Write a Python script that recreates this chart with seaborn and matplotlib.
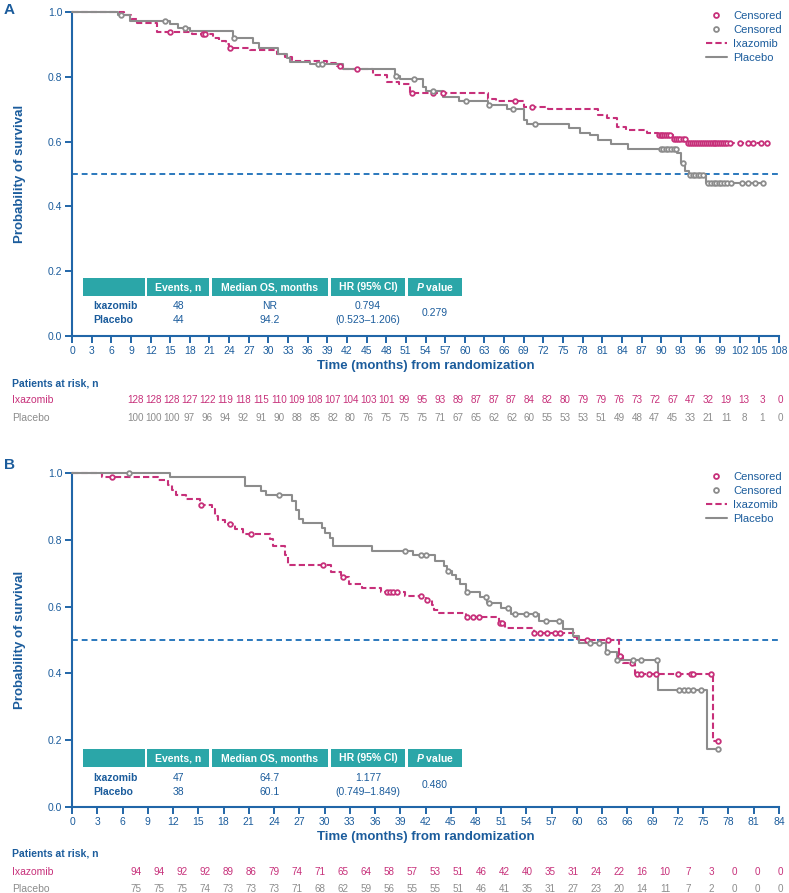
import numpy as np
import pandas as pd
import matplotlib
matplotlib.use('Agg')
import matplotlib.pyplot as plt
import seaborn as sns
from matplotlib.patches import Rectangle
from matplotlib.lines import Line2D

sns.set_theme(style='ticks')
plt.rcParams['font.family'] = ['Liberation Sans', 'DejaVu Sans']
plt.rcParams['mathtext.fontset'] = 'custom'
plt.rcParams['mathtext.it'] = 'Liberation Sans:italic:bold'
plt.rcParams['mathtext.rm'] = 'Liberation Sans:bold'

PINK = '#c7307a'
GRAY = '#8c8c8c'
BLUE = '#1b5c9c'
AXBLUE = '#2166a8'
TEAL = '#2ba6a8'

# ---- Panel A data ----
a_ixa_t = [0, 8.0, 9.0, 9.9, 13.0, 18.3, 21.5, 22.5, 23.5, 24.0, 27.2, 31.3, 32.5, 33.6, 38.9, 40.5, 41.4,
           46.0, 48.1, 50.0, 51.6, 63.5, 64.8, 69.0, 72.7, 80.3, 81.8, 83.2, 84.7, 87.8, 89.5, 91.8, 93.9]
a_ixa_s = [1.0, 0.99, 0.98, 0.967, 0.937, 0.931, 0.920, 0.910, 0.900, 0.890, 0.883, 0.872, 0.860, 0.849, 0.842, 0.834, 0.824,
           0.806, 0.785, 0.777, 0.751, 0.731, 0.726, 0.708, 0.700, 0.682, 0.672, 0.646, 0.636, 0.627, 0.620, 0.607, 0.595]
a_ixa_cens = [15.0, 20.0, 20.3, 24.1, 40.9, 43.5, 52.0, 55.1, 56.6, 67.6, 70.2,
              89.6, 89.9, 90.2, 90.5, 90.8, 91.1, 91.4, 92.0, 92.3, 92.6, 92.9, 93.3, 93.6,
              94.1, 94.4, 94.7, 95.0, 95.3, 95.6, 95.9, 96.2, 96.5, 96.8, 97.1, 97.4, 97.7, 98.0,
              98.3, 98.6, 98.9, 99.2, 99.5, 99.8, 100.1, 100.5, 102.0, 103.2, 104.0, 105.2, 106.1]

a_pla_t = [0, 7.0, 8.9, 15.0, 16.2, 18.0, 24.6, 27.6, 28.6, 31.5, 32.8, 33.3, 36.3, 41.4, 49.3, 50.1, 53.6, 54.0,
           56.6, 59.1, 63.5, 66.4, 69.0, 69.5, 75.9, 77.6, 79.1, 80.3, 82.4, 84.9, 92.4, 93.1, 93.7, 94.2, 96.9]
a_pla_s = [1.0, 0.991, 0.972, 0.962, 0.950, 0.941, 0.919, 0.903, 0.888, 0.872, 0.859, 0.847, 0.839, 0.824, 0.802, 0.792, 0.770, 0.755,
           0.739, 0.726, 0.713, 0.701, 0.667, 0.653, 0.641, 0.627, 0.620, 0.605, 0.592, 0.576, 0.564, 0.533, 0.510, 0.497, 0.471]
a_pla_cens = [7.5, 14.2, 17.3, 24.8, 37.6, 38.2, 49.5, 52.2, 55.1, 60.2, 63.7, 67.3, 70.7,
              89.9, 90.3, 90.7, 91.1, 91.5, 91.9, 92.2, 93.4, 94.4, 94.8, 95.2, 95.6, 96.0, 96.4,
              97.2, 97.6, 98.0, 98.4, 98.8, 99.2, 99.6, 100.0, 100.6, 102.4, 103.2, 104.3, 105.6]

a_risk_ixa = [128, 128, 128, 127, 122, 119, 118, 115, 110, 109, 108, 107, 104, 103, 101, 99, 95, 93, 89, 87,
              87, 87, 84, 82, 80, 79, 79, 76, 73, 72, 67, 47, 32, 19, 13, 3, 0]
a_risk_pla = [100, 100, 100, 97, 96, 94, 92, 91, 90, 88, 85, 82, 80, 76, 75, 75, 75, 71, 67, 65,
              62, 62, 60, 55, 53, 53, 51, 49, 48, 47, 45, 33, 21, 11, 8, 1, 0]
a_table = {'events': ['48', '44'], 'median': ['NR', '94.2'], 'hr': ['0.794', '(0.523\u20131.206)'], 'p': '0.279'}

# ---- Panel B data ----
b_ixa_t = [0, 3.6, 10.2, 11.4, 11.9, 12.4, 13.6, 15.2, 16.6, 17.0, 17.4, 18.2, 19.4, 20.3, 23.5, 23.9, 25.3, 25.7,
           30.8, 31.9, 32.9, 34.4, 36.7, 39.6, 42.0, 42.8, 43.0, 43.6, 46.8, 50.7, 51.5, 54.9, 59.7, 60.0,
           65.0, 65.5, 66.9, 76.2]
b_ixa_s = [1.0, 0.988, 0.979, 0.965, 0.949, 0.934, 0.922, 0.905, 0.892, 0.872, 0.860, 0.847, 0.832, 0.817, 0.802, 0.781, 0.754, 0.725,
           0.705, 0.690, 0.668, 0.656, 0.643, 0.632, 0.620, 0.605, 0.590, 0.580, 0.568, 0.550, 0.536, 0.521, 0.509, 0.500,
           0.451, 0.431, 0.398, 0.198]
b_ixa_cens = [4.8, 15.3, 18.8, 21.3, 29.8, 32.2, 37.4, 37.8, 38.1, 38.6, 41.5, 42.2, 46.9, 47.6, 48.4, 50.8, 51.1,
              54.9, 55.6, 56.4, 57.4, 58.0, 61.2, 63.7, 65.1, 66.5, 67.1, 67.6, 68.6, 69.4, 72.0, 73.5, 73.8, 75.9, 76.8]

b_pla_t = [0, 11.6, 20.5, 22.5, 23.0, 26.1, 26.6, 27.0, 27.5, 29.7, 30.1, 30.6, 31.0, 35.7, 40.5, 43.1, 44.2, 44.6,
           45.1, 45.6, 46.1, 46.8, 48.5, 49.3, 51.0, 52.2, 55.5, 58.3, 59.5, 60.2, 63.5, 64.7, 69.6, 75.4]
b_pla_s = [1.0, 0.988, 0.960, 0.947, 0.933, 0.917, 0.890, 0.862, 0.849, 0.834, 0.820, 0.805, 0.782, 0.768, 0.754, 0.738, 0.722, 0.707,
           0.694, 0.682, 0.667, 0.643, 0.630, 0.610, 0.595, 0.578, 0.557, 0.533, 0.512, 0.491, 0.463, 0.440, 0.350, 0.174]
b_pla_cens = [6.8, 24.6, 39.6, 41.5, 42.0, 44.7, 46.9, 49.2, 49.5, 51.8, 52.6, 53.9, 55.0, 56.3, 57.9, 61.6, 62.6,
              63.6, 64.8, 66.7, 67.6, 69.5, 72.1, 72.7, 73.2, 73.8, 74.7, 76.7]

b_risk_ixa = [94, 94, 92, 92, 89, 86, 79, 74, 71, 65, 64, 58, 57, 53, 51, 46, 42, 40, 35, 31, 24, 22, 16, 10, 7, 3, 0, 0, 0]
b_risk_pla = [75, 75, 75, 74, 73, 73, 73, 71, 68, 62, 59, 56, 55, 55, 51, 46, 41, 35, 31, 27, 23, 20, 14, 11, 7, 2, 0, 0, 0]
b_table = {'events': ['47', '38'], 'median': ['64.7', '60.1'], 'hr': ['1.177', '(0.749\u20131.849)'], 'p': '0.480'}


def km_curve(ax, t, s, cens, color, ls):
    end = max(max(cens), t[-1])
    df = pd.DataFrame({'t': t + [end], 's': s + [s[-1]]})
    sns.lineplot(data=df, x='t', y='s', drawstyle='steps-post', estimator=None, sort=False,
                 color=color, linestyle=ls, linewidth=1.5, ax=ax, clip_on=False, zorder=3)
    idx = np.searchsorted(t, cens, side='right') - 1
    cdf = pd.DataFrame({'t': cens, 's': np.array(s)[idx]})
    sns.scatterplot(data=cdf, x='t', y='s', marker='o', s=11, facecolor='white', edgecolor=color,
                    linewidth=1.3, ax=ax, clip_on=False, zorder=4)


def draw_table(ax, tab, y_hdr, y_rows, y_p):
    cols = [(0.016, 0.103, ''), (0.106, 0.194, 'Events, n'), (0.198, 0.362, 'Median OS, months'),
            (0.366, 0.471, 'HR (95% CI)'), (0.475, 0.552, r'$\mathit{P}$ value')]
    for x0, x1, lab in cols:
        ax.add_patch(Rectangle((x0, y_hdr[0]), x1 - x0, y_hdr[1] - y_hdr[0], transform=ax.transAxes,
                               facecolor=TEAL, edgecolor='none', zorder=2))
        ax.text((x0 + x1) / 2, sum(y_hdr) / 2, lab, transform=ax.transAxes, ha='center', va='center',
                color='white', fontsize=7.5, fontweight='bold')
    for i, name in enumerate(['Ixazomib', 'Placebo']):
        y = y_rows[i]
        ax.text(0.030, y, name, transform=ax.transAxes, ha='left', va='center', color=BLUE,
                fontsize=7.5, fontweight='bold')
        ax.text(0.150, y, tab['events'][i], transform=ax.transAxes, ha='center', va='center', color=BLUE, fontsize=7.5)
        ax.text(0.280, y, tab['median'][i], transform=ax.transAxes, ha='center', va='center', color=BLUE, fontsize=7.5)
        ax.text(0.4185, y, tab['hr'][i], transform=ax.transAxes, ha='center', va='center', color=BLUE, fontsize=7.5)
    ax.text(0.5135, y_p, tab['p'], transform=ax.transAxes, ha='center', va='center', color=BLUE, fontsize=7.5)


def style_axes(ax, xmax):
    ax.set_xlim(0, xmax)
    ax.set_ylim(0, 1.0)
    ax.set_xticks(np.arange(0, xmax + 1, 3))
    ax.set_yticks([0, 0.2, 0.4, 0.6, 0.8, 1.0])
    ax.set_yticklabels(['0.0', '0.2', '0.4', '0.6', '0.8', '1.0'])
    sns.despine(ax=ax)
    for sp in ['left', 'bottom']:
        ax.spines[sp].set_color(AXBLUE)
        ax.spines[sp].set_linewidth(1.5)
    ax.tick_params(direction='out', length=5, width=1.4, color=AXBLUE, labelcolor=BLUE, labelsize=7.5, pad=2)
    ax.axhline(0.5, color='#2a78bd', linestyle=(0, (3, 2)), linewidth=1.4, zorder=1)
    ax.set_xlabel('Time (months) from randomization', color=BLUE, fontsize=9.5, fontweight='bold', labelpad=3)
    ax.set_ylabel('Probability of survival', color=BLUE, fontsize=9.5, fontweight='bold', labelpad=16)
    handles = [Line2D([], [], marker='o', color=PINK, markerfacecolor='white', markersize=3.5, markeredgewidth=1.3, linestyle='none'),
               Line2D([], [], marker='o', color=GRAY, markerfacecolor='white', markersize=3.5, markeredgewidth=1.3, linestyle='none'),
               Line2D([], [], color=PINK, linestyle=(0, (3, 1.5)), linewidth=1.5),
               Line2D([], [], color=GRAY, linewidth=1.5)]
    leg = ax.legend(handles, ['Censored', 'Censored', 'Ixazomib', 'Placebo'], loc='upper right',
                    bbox_to_anchor=(1.012, 1.02), frameon=False, fontsize=8, handlelength=1.9,
                    labelspacing=0.35, borderpad=0, handletextpad=0.6)
    for txt in leg.get_texts():
        txt.set_color(BLUE)


def risk_table(fig, ixa, pla, y_title, y1, y2):
    fig.text(0.015, y_title, 'Patients at risk, n', color=BLUE, fontsize=7.5, fontweight='bold', va='center')
    fig.text(0.015, y1, 'Ixazomib', color=PINK, fontsize=7.5, va='center')
    fig.text(0.015, y2, 'Placebo', color=GRAY, fontsize=7.5, va='center')
    xs = np.linspace(0.172, 0.9886, len(ixa))
    for x, a, b in zip(xs, ixa, pla):
        fig.text(x, y1, str(a), color=PINK, fontsize=7.1, ha='center', va='center')
        fig.text(x, y2, str(b), color=GRAY, fontsize=7.1, ha='center', va='center')


fig = plt.figure(figsize=(7.89, 8.93), dpi=100)
axA = fig.add_axes([0.0913, 0.6237, 0.896, 0.3628])
axB = fig.add_axes([0.0913, 0.0963, 0.896, 0.374])

km_curve(axA, a_ixa_t, a_ixa_s, a_ixa_cens, PINK, (0, (3, 1.5)))
km_curve(axA, a_pla_t, a_pla_s, a_pla_cens, GRAY, '-')
style_axes(axA, 108)
draw_table(axA, a_table, (0.123, 0.179), (0.093, 0.049), 0.070)

km_curve(axB, b_ixa_t, b_ixa_s, b_ixa_cens, PINK, (0, (3, 1.5)))
km_curve(axB, b_pla_t, b_pla_s, b_pla_cens, GRAY, '-')
style_axes(axB, 84)
draw_table(axB, b_table, (0.119, 0.174), (0.088, 0.046), 0.066)

fig.text(0.005, 0.997, 'A', color=BLUE, fontsize=11, fontweight='bold', va='top')
fig.text(0.005, 0.487, 'B', color=BLUE, fontsize=11, fontweight='bold', va='top')

risk_table(fig, a_risk_ixa, a_risk_pla, 0.571, 0.552, 0.532)
risk_table(fig, b_risk_ixa, b_risk_pla, 0.0437, 0.0235, 0.0045)

fig.savefig('out.png', dpi=100)
